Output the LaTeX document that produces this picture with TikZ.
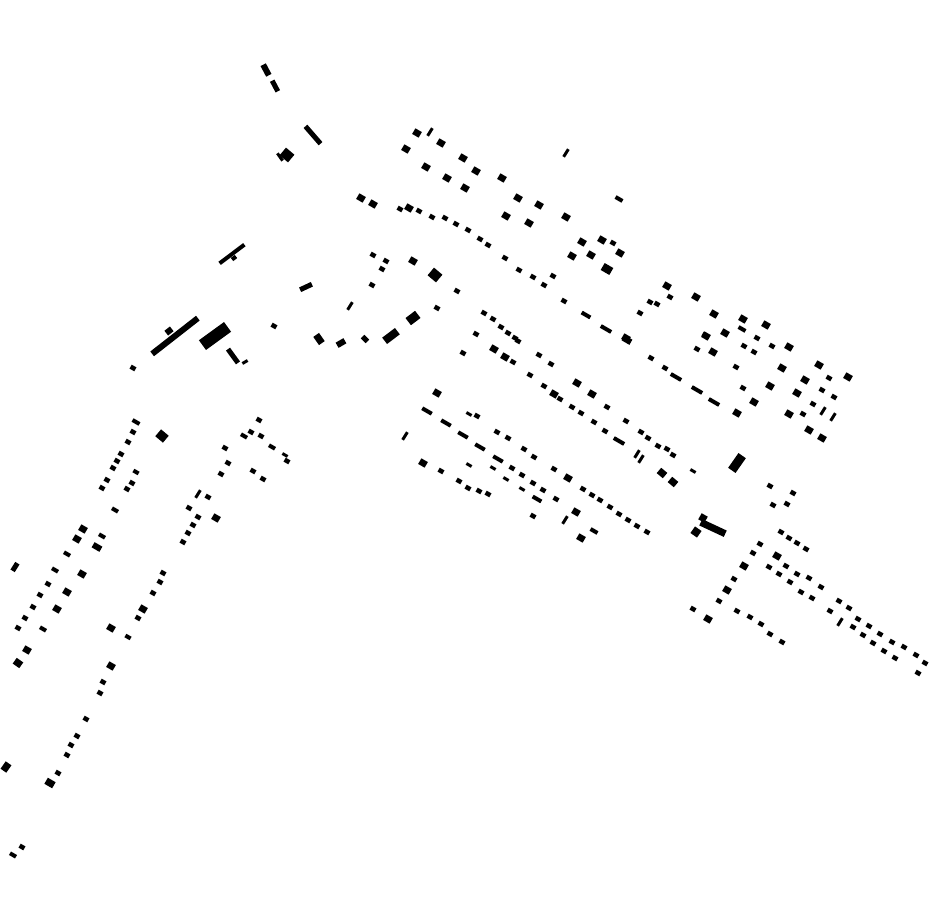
\documentclass[tikz,border=0pt]{standalone}
\usepackage{tikz}
\usetikzlibrary{positioning}

\tikzset{bldg/.style={fill=black}}
% one footprint: x, y, length, width, angle
\newcommand{\bldgrect}[5]{\fill[bldg,shift={(#1,#2)},rotate=#5] (-#3/2,-#4/2) rectangle (#3/2,#4/2);}

\begin{document}
\begin{tikzpicture}[x=1pt,y=-1pt]
				\useasboundingbox (0,0) rectangle (930,924);
				
				% small houses
				\foreach \x/\y in {133/432,128/442,121/454,117/461,113/468,107/480,102/488,132/483,127/489,48/584,40/595,33/607,25/618,18/628,103/682,100/693,86/719,77/736,71/745,67/755,58/773,22/847,163/573,160/582,153/593,138/618,259/420,251/432,261/436,287/461,225/448,228/463,221/474,253/471,263/479,208/497,189/508,198/517,193/525,188/533,183/542,133/368,274/326,
					400/209,419/211,432/217,445/218,456/224,468/230,480/239,488/245,505/258,519/270,533/277,544/285,553/276,564/301,613/243,373/255,386/261,382/269,372/285,457/291,437/308,476/334,463/353,484/313,493/319,501/327,508/333,515/338,518/341,513/362,530/375,539/355,551/364,544/386,560/399,572/407,581/413,607/407,594/422,605/431,626/421,641/432,648/438,658/446,667/449,673/455,650/302,657/304,640/313,670/297,705/335,697/349,651/358,665/368,
					757/338,744/346,754/352,772/346,736/367,829/378,743/388,822/390,834/397,813/404,803/414,
					512/468,522/475,533/483,543/490,556/499,477/416,497/432,508/438,524/449,534/457,554/469,583/489,592/495,600/500,610/507,619/514,628/520,637/526,647/532,441/471,459/481,468/488,479/491,488/494,533/516,
					770/486,793/493,773/505,787/504,781/532,789/538,797/543,806/549,760/544,753/553,734/579,719/601,693/609,737/611,750/617,761/624,770/634,782/642,786/566,797/574,809/578,821/587,769/567,779/574,790/582,801/592,812/598,839/601,849/608,830/611,853/627,858/619,869/626,863/635,880/634,873/643,892/642,884/651,904/647,895/658,916/655,925/663,918/673}
					\bldgrect{\x}{\y}{5.5}{4.5}{-30};
				
				% larger houses
				\foreach \x/\y in {83/529,77/539,82/574,67/592,57/609,143/609,111/628,111/666,216/518,27/650,
					361/198,373/204,417/133,441/143,406/149,463/158,426/167,476/171,447/178,465/188,502/178,518/198,539/205,506/216,529/223,566/217,582/242,602/240,620/253,572/256,591/255,413/261,409/208,626/338,494/349,505/357,577/383,592/394,554/394,568/478,423/463,576/512,581/538,437/393,
					667/286,696/297,714/314,743/319,766/325,706/336,725/333,713/352,789/347,782/368,819/365,848/377,805/380,770/386,797/393,754/402,737/413,789/414,809/430,822/438,
					744/566,727/590,708/619,777/556}
					\bldgrect{\x}{\y}{7.5}{6.5}{-30};
				
				% sheds along the streets
				\foreach \x/\y/\l in {586/315/10,606/329/12,676/377/12,697/390/12,714/402/12,427/411/11,446/423/11,463/435/11,480/447/11,498/459/11,537/499/10,619/441/12,742/329/8,619/199/8,
					136/422/8,115/510/7,67/554/7,55/570/7,43/629/7,128/637/6,244/436/7,272/447/7,136/472/6,13/855/7}
					\bldgrect{\x}{\y}{\l}{4}{-30};
				\foreach \x/\y in {469/414,469/465,506/479,522/489,493/468,693/471,285/455}
					\bldgrect{\x}{\y}{6}{3}{-30};
				\foreach \x/\y in {566/153,405/436,823/411,833/417,840/622,637/454,641/459,565/520,350/306,198/494,430/132}
					\bldgrect{\x}{\y}{9}{3}{58};
				
				% big footprints
				\foreach \x/\y/\l/\w/\a in {266/70/12/6/-62,275/86/12/5/-62,313/135/23/5/-49,287/155/11/10/-40,280/157/9/3/-55,232/254/31/4/37,234/258/5/4/37,306/287/13/5/25,
					175/336/58/6/38,169/331/7/6/38,215/336/31/12/36,233/356/17/5/-54,245/362/6/3/30,
					391/336/16/8/37,413/318/12/9/37,435/275/11/10/-40,319/339/10/7/-55,341/343/9/6/30,365/339/7/5/-45,
					607/269/10/8/-30,627/340/9/6/-30,737/463/18/9/55,662/473/8/7/-40,673/482/8/7/-40,
					713/528/27/7/-25,703/518/7/7/-30,696/532/8/8/-35,594/531/8/4/-30,
					162/436/10/9/-40,97/547/9/6/-30,102/536/7/4/-30,18/663/8/7/-35,50/783/9/7/-30,6/767/9/7/55,15/567/9/5/58}
					\bldgrect{\x}{\y}{\l}{\w}{\a};
				
			\end{tikzpicture}
\end{document}
